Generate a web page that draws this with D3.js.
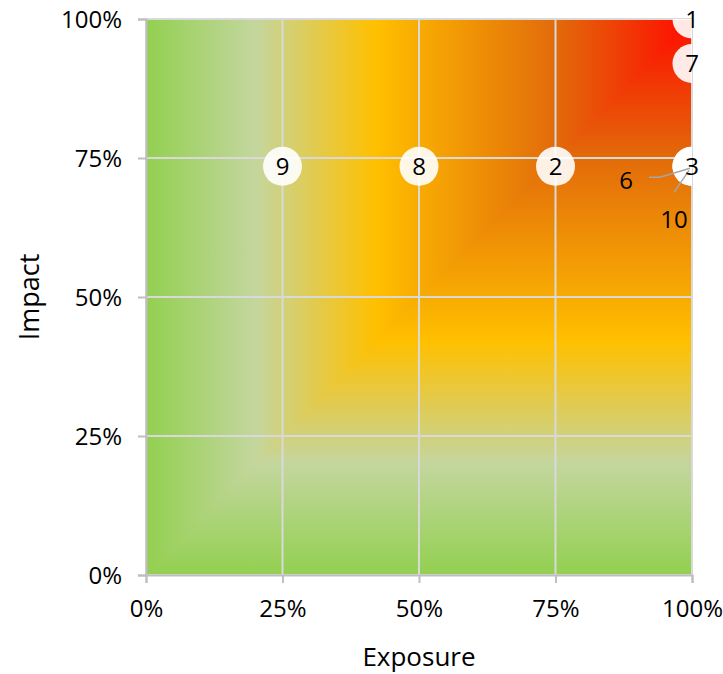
<!DOCTYPE html>
<html><head><meta charset="utf-8">
<script src="https://cdn.jsdelivr.net/npm/d3@7"></script>
<style>body{margin:0;background:#fff}svg{display:block}text{font-family:"Open Sans",sans-serif}</style>
</head><body><div id="chart"></div>
<script>
// ---- data ----
const pointLabels = ["1", "2", "3", "6", "7", "8", "9", "10"];
const exposure    = [100, 75, 100, 100, 100, 50, 25, 100];
const impact      = [100, 73.5, 73.5, 73.5, 92, 73.5, 73.5, 73.5];
const tickValues  = [0, 25, 50, 75, 100];
const tickLabels  = ["0%", "25%", "50%", "75%", "100%"];
const gradientStops  = [0, 0.2, 0.42, 0.75, 1];
const gradientColors = ["#92d050", "#c4d69e", "#ffc000", "#e26b0a", "#ff0a00"];
const xTitle = "Exposure", yTitle = "Impact";

// ---- layout ----
const W = 723, H = 674;
const m = {left: 146, right: 31, top: 19, bottom: 99};
const iw = W - m.left - m.right, ih = H - m.top - m.bottom;
const x = d3.scaleLinear().domain([0, 100]).range([0, iw]);
const y = d3.scaleLinear().domain([0, 100]).range([ih, 0]);

const svg = d3.select("#chart").append("svg").attr("width", W).attr("height", H);
const defs = svg.append("defs");
const g = svg.append("g").attr("transform", `translate(${m.left},${m.top})`);

function addGrad(id, x1, y1, x2, y2) {
  const gr = defs.append("linearGradient").attr("id", id).attr("gradientUnits", "userSpaceOnUse")
    .attr("x1", x1).attr("y1", y1).attr("x2", x2).attr("y2", y2);
  gradientStops.forEach((s, i) => gr.append("stop").attr("offset", s).attr("stop-color", gradientColors[i]));
}
addGrad("gx", x(0), 0, x(100), 0);
addGrad("gy", 0, y(0), 0, y(100));

defs.append("clipPath").attr("id", "plotclip").append("rect")
  .attr("x", 0).attr("y", 0).attr("width", iw).attr("height", ih);

// background: min(exposure, impact) field
const line = d3.line();
g.append("rect").attr("fill", "url(#gx)")
  .attr("x", x(0)).attr("y", y(100)).attr("width", x(100) - x(0)).attr("height", y(0) - y(100));
g.append("path").attr("fill", "url(#gy)")
  .attr("d", line([[x(0), y(0)], [x(100), y(100)], [x(100), y(0)]]) + "Z");

// grid
const grid = g.append("g");
grid.selectAll(".vx").data(tickValues).join("line")
  .attr("x1", d => x(d)).attr("x2", d => x(d)).attr("y1", 0).attr("y2", ih)
  .attr("stroke", "#d9d9d9").attr("stroke-width", 2);
grid.selectAll(".hy").data(tickValues).join("line")
  .attr("y1", d => y(d)).attr("y2", d => y(d)).attr("x1", 0).attr("x2", iw)
  .attr("stroke", "#d9d9d9").attr("stroke-width", 2);

// axes
const fmt = d => tickLabels[tickValues.indexOf(d)];
const xAxis = g.append("g").attr("transform", `translate(0,${ih})`)
  .call(d3.axisBottom(x).tickValues(tickValues).tickFormat(fmt).tickSize(8).tickPadding(12));
const yAxis = g.append("g")
  .call(d3.axisLeft(y).tickValues(tickValues).tickFormat(fmt).tickSize(8).tickPadding(16));
[xAxis, yAxis].forEach(a => {
  a.select(".domain").attr("stroke", "#bfbfbf").attr("stroke-width", 2);
  a.selectAll(".tick line").attr("stroke", "#bfbfbf").attr("stroke-width", 2);
  a.selectAll("text").attr("font-size", 24).attr("fill", "#000").attr("font-family", "Open Sans");
});
yAxis.selectAll("text").attr("dy", "0.35em");
xAxis.selectAll("text").attr("dy", "0.9em");

// titles
svg.append("text").attr("x", m.left + iw / 2).attr("y", 666).attr("text-anchor", "middle")
  .attr("font-size", 26).text(xTitle);
svg.append("text").attr("transform", `translate(39,${m.top + ih / 2}) rotate(-90)`)
  .attr("text-anchor", "middle").attr("font-size", 27).text(yTitle);

// points
const pts = pointLabels.map((l, i) => ({label: l, ex: exposure[i], im: impact[i]}));
// callout offsets for overlapping labels (layout)
const callouts = {
  "6":  {dx: -66, dy: 14, path: [[-43, 11], [-32, 11], [-2, 2]]},
  "10": {dx: -18, dy: 53, path: [[-18, 26], [-3, 4]]}
};
const pg = g.append("g");
pg.append("g").attr("clip-path", "url(#plotclip)").selectAll("circle").data(pts).join("circle")
  .attr("cx", d => x(d.ex)).attr("cy", d => y(d.im)).attr("r", 19.5)
  .attr("fill", "#fff").attr("fill-opacity", 0.9);
pts.forEach(d => {
  const c = callouts[d.label];
  if (c) {
    pg.append("path").attr("fill", "none").attr("stroke", "#a6a6a6").attr("stroke-width", 1.5)
      .attr("d", line(c.path.map(p => [x(d.ex) + p[0], y(d.im) + p[1]])));
  }
});
pg.selectAll("text").data(pts).join("text")
  .attr("x", d => x(d.ex) + (callouts[d.label] ? callouts[d.label].dx : 0))
  .attr("y", d => y(d.im) + (callouts[d.label] ? callouts[d.label].dy : 0))
  .attr("dy", "0.36em").attr("text-anchor", "middle").attr("font-size", 24).attr("fill", "#000")
  .text(d => d.label);
</script></body></html>
